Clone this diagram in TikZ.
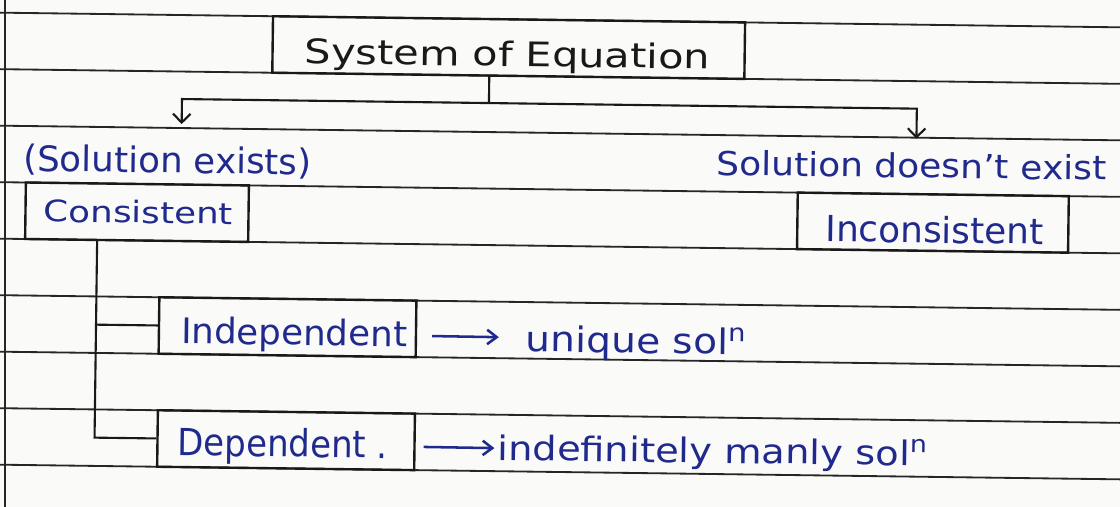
\documentclass[tikz,border=0pt]{standalone}
\usepackage{fontspec}
\setmainfont{DejaVu Sans}
\usepackage{graphicx}
\usetikzlibrary{arrows.meta}
\definecolor{ink}{RGB}{32,42,140}
\definecolor{pen}{RGB}{25,25,25}
\definecolor{ruling}{RGB}{38,38,38}
\definecolor{paper}{RGB}{250,250,248}
\newcommand\hw[3]{\resizebox{#1cm}{\height}{\fontsize{#2pt}{#2pt}\selectfont #3}}
\begin{document}
\begin{tikzpicture}[x=0.025cm,y=-0.025cm,
  ruled/.style={draw=ruling,line width=1.3pt},
  box/.style={draw=pen,line width=1.7pt,inner sep=0pt,rectangle},
  penline/.style={draw=pen,line width=1.5pt},
  parrow/.style={draw=pen,line width=1.5pt,-{Straight Barb[length=2.2mm,width=4.4mm,line width=1.5pt]}},
  barrow/.style={draw=ink,line width=1.8pt,-{Straight Barb[length=2.4mm,width=3.6mm,line width=1.8pt]}},
  txt/.style={inner sep=0pt,anchor=base west,text=ink},
  ttxt/.style={inner sep=0pt,anchor=base west,text=pen}]
\useasboundingbox (0,0) rectangle (1120,507);
\fill[paper] (0,0) rectangle (1120,507);
\clip (0,0) rectangle (1120,507);
\begin{scope}[rotate around={-0.75:(560,253)}, transform shape]
  % ruled notebook lines
  \foreach \yy in {20,76.5,133,189.5,246,302.5,359,415.5,472}
    \draw[ruled] (-40,\yy) -- (1160,\yy);
  % boxes
  \node[box, minimum width=11.8cm, minimum height=1.4125cm] (top) at (506,48.25) {};
  \node[box, minimum width=5.575cm, minimum height=1.4125cm] (cons) at (136.5,217.75) {};
  \node[box, minimum width=6.775cm, minimum height=1.4125cm] (incons) at (932.5,217.75) {};
  \node[box, minimum width=6.425cm, minimum height=1.4125cm] (ind) at (288.5,330.75) {};
  \node[box, minimum width=6.425cm, minimum height=1.4125cm] (dep) at (288.5,443.75) {};
  % texts
  \node[ttxt] (topt) at (302,67) {\hw{10.125}{24}{System of Equation}};
  \node[txt] (sol) at (22,178) {\hw{7.2}{25}{(Solution exists)}};
  \node[txt] (const) at (43,228.5) {\hw{4.725}{21}{Consistent}};
  \node[txt] (nosol) at (715,173) {\hw{9.75}{23.5}{Solution doesn’t exist}};
  \node[txt] (inconst) at (825,238) {\hw{5.45}{25.5}{Inconsistent}};
  \node[txt] (indt) at (182,348.5) {\hw{5.65}{25}{Independent}};
  \node[txt] (dept) at (180,460.5) {\hw{5.25}{26.5}{Dependent .}};
  \node[txt] (uq) at (527,352) {\hw{5.5}{25}{unique sol\textsuperscript{n}}};
  \node[txt] (inf) at (500,461) {\hw{10.75}{24}{indefinitely manly sol\textsuperscript{n}}};
  % connectors from the top box
  \coordinate (j) at (487,104);
  \coordinate (lt) at (180,129);
  \coordinate (rt) at (915,134);
  \draw[penline] (top.south -| j) -- (j);
  \draw[parrow] (j) -| (lt);
  \draw[parrow] (j) -| (rt);
  % tree under Consistent
  \coordinate (tv) at (97,441);
  \draw[penline] (cons.south -| tv) -- (dep.west -| tv) -- (dep.west);
  \draw[penline] (ind.west -| tv) -- (ind.west);
  % blue arrows
  \draw[barrow] ([shift={(15,7)}]ind.east) -- ([shift={(-27,-14)}]uq.base west);
  \draw[barrow] ([shift={(8,5)}]dep.east) -- ([shift={(-3,-12)}]inf.base west);
\end{scope}
% left margin line
\draw[ruled] (5,0) -- (5,507);
\end{tikzpicture}
\end{document}
